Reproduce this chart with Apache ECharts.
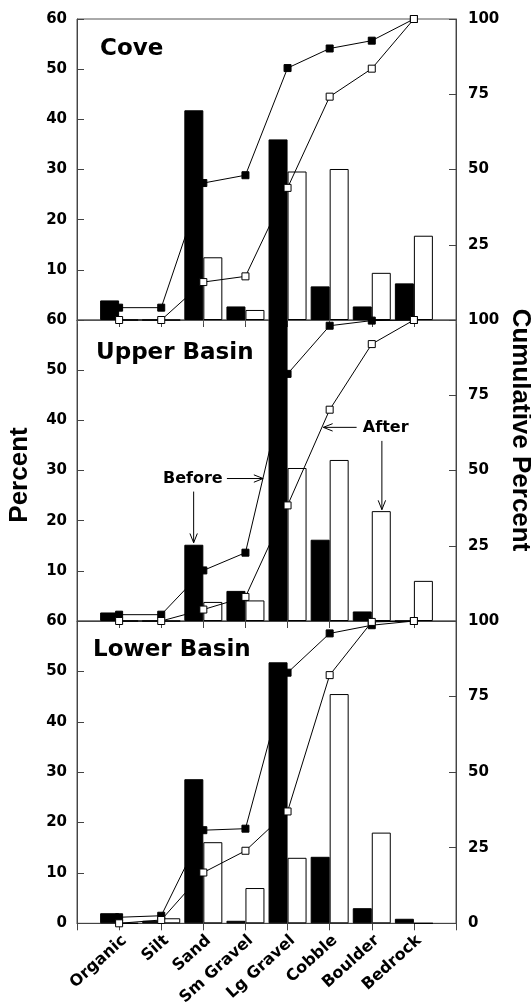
<!DOCTYPE html>
<html>
<head>
<meta charset="utf-8">
<script src="https://cdn.jsdelivr.net/npm/echarts@6/dist/echarts.min.js"></script>
<style>
html,body{margin:0;padding:0;background:#fff;}
#chart{width:531px;height:1008px;}
</style>
</head>
<body>
<div id="chart"></div>
<script>
const categories = ['Organic','Silt','Sand','Sm Gravel','Lg Gravel','Cobble','Boulder','Bedrock'];
const panelTitles = ['Cove','Upper Basin','Lower Basin'];

const coveBefore     = [3.9, 0, 41.8, 2.7, 36.0, 6.7, 2.7, 7.3];
const coveAfter      = [0, 0, 12.5, 2.0, 29.6, 30.1, 9.4, 16.8];
const coveCumBefore  = [4.1, 4.1, 45.5, 48.1, 83.7, 90.2, 92.8, 100];
const coveCumAfter   = [0, 0, 12.6, 14.5, 43.9, 74.2, 83.5, 100];

const upperBefore    = [1.7, 0, 15.2, 6.0, 60, 16.2, 1.9, 0];
const upperAfter     = [0, 0, 3.8, 4.1, 30.5, 32.1, 21.9, 8.0];
const upperCumBefore = [2.1, 2.1, 16.8, 22.7, 82.1, 98.1, 99.8, 100];
const upperCumAfter  = [0, 0, 3.8, 8.0, 38.4, 70.2, 92.0, 100];

const lowerBefore    = [2.0, 0.5, 28.6, 0.5, 51.8, 13.2, 3.0, 0.9];
const lowerAfter     = [0, 1.0, 16.1, 7.0, 13.0, 45.5, 18.0, 0];
const lowerCumBefore = [2.0, 2.5, 30.8, 31.3, 82.9, 95.9, 98.6, 100];
const lowerCumAfter  = [0, 1.1, 16.8, 24.0, 37.0, 82.1, 99.7, 100];

const percentMax = 60, percentStep = 10;
const cumMax = 100, cumStep = 25;

const panels = [
  [coveBefore, coveAfter, coveCumBefore, coveCumAfter],
  [upperBefore, upperAfter, upperCumBefore, upperCumAfter],
  [lowerBefore, lowerAfter, lowerCumBefore, lowerCumAfter]
];

const pad = arr => [null, ...arr, null];
const axisCats = ['', ...categories, ''];

const FONT = 'DejaVu Sans';
const gridTops = [19, 320, 621];
const gridHeights = [301, 301, 303];

const grids = gridTops.map((t, i) => ({
  left: 77, width: 379, top: t, height: gridHeights[i],
  show: true, borderColor: '#555', borderWidth: 1, backgroundColor: 'transparent'
}));

const xAxes = [0, 1, 2].map(i => ({
  type: 'category', gridIndex: i, data: axisCats, boundaryGap: false,
  axisLine: { show: true, lineStyle: { color: '#444', width: 1 } },
  axisTick: { show: true, inside: false, length: 7, interval: 0, lineStyle: { color: '#444' } },
  axisLabel: i === 2 ? {
    show: true, interval: 0, rotate: 42, margin: 9, verticalAlign: 'top',
    fontFamily: FONT, fontWeight: 'bold', fontSize: 16, color: '#000'
  } : { show: false },
  splitLine: { show: false }
}));
xAxes.push({
  type: 'category', gridIndex: 0, position: 'top', data: axisCats, boundaryGap: false,
  axisLine: { show: true, lineStyle: { color: '#555' } },
  axisTick: { show: true, inside: true, length: 4, interval: 0, lineStyle: { color: '#555' } },
  axisLabel: { show: false }, splitLine: { show: false }
});

const yAxes = [];
[0, 1, 2].forEach(i => {
  yAxes.push({
    type: 'value', gridIndex: i, position: 'left', min: 0, max: percentMax, interval: percentStep,
    axisLine: { show: true, lineStyle: { color: '#444' } },
    axisTick: { show: true, inside: true, length: 7, lineStyle: { color: '#444' } },
    axisLabel: { show: true, showMinLabel: i === 2, margin: 10,
      fontFamily: FONT, fontWeight: 'bold', fontSize: 15, color: '#000' },
    splitLine: { show: false }
  });
  yAxes.push({
    type: 'value', gridIndex: i, position: 'right', min: 0, max: cumMax, interval: cumStep,
    axisLine: { show: true, lineStyle: { color: '#444' } },
    axisTick: { show: true, inside: true, length: 7, lineStyle: { color: '#444' } },
    axisLabel: { show: true, showMinLabel: i === 2, margin: 12,
      fontFamily: FONT, fontWeight: 'bold', fontSize: 15, color: '#000' },
    splitLine: { show: false }
  });
});

const series = [];
panels.forEach((p, i) => {
  series.push({
    type: 'bar', xAxisIndex: i, yAxisIndex: i * 2, data: pad(p[0]),
    barWidth: 19, barGap: '0%', z: 2,
    itemStyle: { color: '#000', borderColor: '#000', borderWidth: 1 }
  });
  series.push({
    type: 'bar', xAxisIndex: i, yAxisIndex: i * 2, data: pad(p[1]),
    barWidth: 19, barGap: '0%', z: 2,
    itemStyle: { color: '#fff', borderColor: '#000', borderWidth: 1 }
  });
  series.push({
    type: 'line', xAxisIndex: i, yAxisIndex: i * 2 + 1, data: pad(p[2]),
    symbol: 'rect', symbolSize: 7, showSymbol: true, z: 4,
    lineStyle: { color: '#000', width: 1 },
    itemStyle: { color: '#000', borderColor: '#000', borderWidth: 1 }
  });
  series.push({
    type: 'line', xAxisIndex: i, yAxisIndex: i * 2 + 1, data: pad(p[3]),
    symbol: 'rect', symbolSize: 7, showSymbol: true, z: 5,
    lineStyle: { color: '#000', width: 1 },
    itemStyle: { color: '#fff', borderColor: '#000', borderWidth: 1 }
  });
});

const staticGraphics = [
  { x: 100, y: 52 }, { x: 96, y: 356 }, { x: 93, y: 653 }
].map((pos, i) => ({
  type: 'text', left: pos.x, top: pos.y - 14, z: 10,
  style: { text: panelTitles[i], font: 'bold 23px "DejaVu Sans"', fill: '#000' }
})).concat([
  { type: 'text', x: 20, y: 475, rotation: Math.PI / 2, z: 10,
    style: { text: 'Percent', font: 'bold 26px "Liberation Sans"', fill: '#000', align: 'center', verticalAlign: 'middle' } },
  { type: 'text', x: 520, y: 430, rotation: -Math.PI / 2, z: 10,
    style: { text: 'Cumulative Percent', font: 'bold 26px "Liberation Sans"', fill: '#000', align: 'center', verticalAlign: 'middle' } }
]);

const chart = echarts.init(document.getElementById('chart'), null, { renderer: 'canvas' });
chart.setOption({
  animation: false,
  backgroundColor: '#fff',
  grid: grids,
  xAxis: xAxes,
  yAxis: yAxes,
  series: series
});

// Annotations (Upper Basin) positioned via the chart's own axes
function px(grid, idx, val) {
  const i0 = Math.floor(idx), f = idx - i0;
  const x0 = chart.convertToPixel({ xAxisIndex: grid }, i0);
  const x1 = chart.convertToPixel({ xAxisIndex: grid }, i0 + 1);
  const y = chart.convertToPixel({ yAxisIndex: grid * 2 }, val);
  return [x0 + (x1 - x0) * f, y];
}
function arrow(a, b) {
  const ang = Math.atan2(b[1] - a[1], b[0] - a[0]);
  const L = 10, w = 0.38;
  const h1 = [b[0] - L * Math.cos(ang - w), b[1] - L * Math.sin(ang - w)];
  const h2 = [b[0] - L * Math.cos(ang + w), b[1] - L * Math.sin(ang + w)];
  return [
    { type: 'line', z: 10, shape: { x1: a[0], y1: a[1], x2: b[0], y2: b[1] }, style: { stroke: '#000', lineWidth: 1 } },
    { type: 'polyline', z: 10, shape: { points: [h1, b, h2] }, style: { stroke: '#000', lineWidth: 1, fill: null } }
  ];
}
const beforeTxt = px(1, 2.75, 28.4);
const afterTxt = px(1, 7.33, 38.6);
let ann = [
  { type: 'text', x: beforeTxt[0], y: beforeTxt[1], z: 10,
    style: { text: 'Before', font: 'bold 16px "DejaVu Sans"', fill: '#000', align: 'center', verticalAlign: 'middle' } },
  { type: 'text', x: afterTxt[0], y: afterTxt[1], z: 10,
    style: { text: 'After', font: 'bold 16px "DejaVu Sans"', fill: '#000', align: 'center', verticalAlign: 'middle' } }
];
ann = ann.concat(arrow(px(1, 2.77, 25.8), px(1, 2.77, 15.6)));
ann = ann.concat(arrow(px(1, 3.56, 28.4), px(1, 4.42, 28.4)));
ann = ann.concat(arrow(px(1, 6.64, 38.6), px(1, 5.85, 38.6)));
ann = ann.concat(arrow(px(1, 7.24, 35.9), px(1, 7.24, 22.2)));

chart.setOption({ graphic: staticGraphics.concat(ann) });
</script>
</body>
</html>
